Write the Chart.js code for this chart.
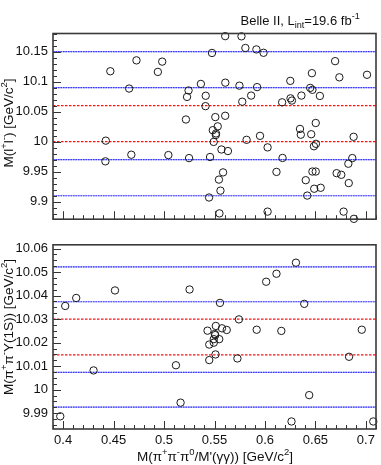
<!DOCTYPE html>
<html>
<head>
<meta charset="utf-8">
<script src="https://cdn.jsdelivr.net/npm/chart.js@4.4.0/dist/chart.umd.min.js"></script>
<style>
  html, body { margin: 0; padding: 0; background: #fff; }
  #wrap { position: relative; width: 381px; height: 465px; }
  #wrap canvas { position: absolute; left: 0; }
  #topChart { top: 0; }
  #botChart { top: 232px; }
</style>
</head>
<body>
<div id="wrap">
  <canvas id="topChart" width="381" height="232"></canvas>
  <canvas id="botChart" width="381" height="233"></canvas>
</div>
<script>
// x range of both panels
const xRange = [0.39, 0.71];
const xTickValues = [0.4, 0.45, 0.5, 0.55, 0.6, 0.65, 0.7];

// upper panel: M(l+l-)
const topRange = [9.871, 10.18];
const topTickValues = [9.9, 9.95, 10, 10.05, 10.1, 10.15];
const topX = [
  0.4468, 0.4727, 0.4982, 0.4939, 0.4654, 0.5606, 0.5767, 0.5475, 0.5806, 0.5915,
  0.5986, 0.6695, 0.6737, 0.7011, 0.6465, 0.6251, 0.5365, 0.5607, 0.5747, 0.5922,
  0.6448, 0.6470, 0.5243, 0.5228, 0.5413, 0.5863, 0.6361, 0.6544, 0.6253, 0.6267,
  0.6170, 0.5775, 0.5411, 0.5217, 0.5508, 0.5606, 0.5532, 0.5483, 0.5515, 0.5513,
  0.5492, 0.5569, 0.5633, 0.5456, 0.5248, 0.5043, 0.4676, 0.4423, 0.4419, 0.5818,
  0.5951, 0.6026, 0.6174, 0.6114, 0.5585, 0.5544, 0.5559, 0.5446, 0.5549, 0.6026,
  0.6347, 0.6355, 0.6503, 0.6458, 0.6485, 0.6505, 0.6878, 0.6865, 0.6826, 0.6710,
  0.6756, 0.6830, 0.6470, 0.6503, 0.6404, 0.6419, 0.6488, 0.6552, 0.6779, 0.6881,
];
const topY = [
  10.1172, 10.1353, 10.1332, 10.1161, 10.0884, 10.1756, 10.1753, 10.1476, 10.1559, 10.1535,
  10.1479, 10.1340, 10.1071, 10.1113, 10.1140, 10.1012, 10.0961, 10.0982, 10.0932, 10.0908,
  10.0895, 10.0863, 10.0852, 10.0745, 10.0764, 10.0767, 10.0767, 10.0761, 10.0721, 10.0684,
  10.0655, 10.0665, 10.0591, 10.0369, 10.0409, 10.0431, 10.0255, 10.0191, 10.0137, 10.0111,
  9.9996, 9.9870, 9.9844, 9.9745, 9.9727, 9.9777, 9.9783, 10.0017, 9.9673, 10.0031,
  10.0097, 9.9905, 9.9729, 9.9497, 9.9489, 9.9369, 9.9185, 9.9071, 9.8807, 9.8836,
  10.0212, 10.0116, 10.0311, 10.0124, 9.9924, 9.9964, 10.0081, 9.9727, 9.9633, 9.9476,
  9.9449, 9.9311, 9.9503, 9.9503, 9.9359, 9.9103, 9.9217, 9.9233, 9.8836, 9.8716,
];
const topRedLines = [10.06, 10.0];
const topBlueLines = [10.15, 10.09, 9.97, 9.91];

// lower panel: M(pi+pi-Y(1S))
const botRange = [9.9833, 10.0616];
const botTickValues = [9.99, 10, 10.01, 10.02, 10.03, 10.04, 10.05, 10.06];
const botX = [
  0.3972, 0.4021, 0.4130, 0.4302, 0.4514, 0.5118, 0.5164, 0.5253, 0.5431, 0.5448,
  0.5448, 0.5513, 0.5503, 0.5507, 0.5493, 0.5547, 0.5493, 0.5510, 0.5574, 0.5621,
  0.5554, 0.5742, 0.5727, 0.5918, 0.6012, 0.6114, 0.6307, 0.6162, 0.6389, 0.6438,
  0.6263, 0.6833, 0.6959, 0.7073,
];
const botY = [
  9.9887, 10.0356, 10.0390, 10.0082, 10.0422, 10.0104, 9.9945, 10.0426, 10.0251, 10.0192,
  10.0126, 10.0271, 10.0237, 10.0232, 10.0215, 10.0215, 10.0200, 10.0150, 10.0261, 10.0254,
  10.0369, 10.0299, 10.0133, 10.0255, 10.0459, 10.0493, 10.0540, 10.0250, 10.0365, 9.9977,
  9.9865, 10.0140, 10.0255, 9.9865,
];
const botRedLines = [10.030, 10.0148];
const botBlueLines = [10.0522, 10.0374, 10.0074, 9.9926];

const FONT = '"Liberation Sans", Arial, Helvetica, sans-serif';

function fmt(v) {
  return String(Number(v.toFixed(3)));
}

// draw a string made of normal / superscript / subscript parts
function drawRich(ctx, parts, x, y, size, align) {
  const sizes = parts.map(p => (p[1] ? size * 0.7 : size));
  let total = 0;
  parts.forEach((p, i) => {
    ctx.font = sizes[i] + 'px ' + FONT;
    total += ctx.measureText(p[0]).width;
  });
  let cx = align === 'center' ? x - total / 2 : x;
  ctx.textBaseline = 'alphabetic';
  ctx.textAlign = 'left';
  parts.forEach((p, i) => {
    ctx.font = sizes[i] + 'px ' + FONT;
    let dy = 0;
    if (p[1] === 'sup') dy = -size * 0.42;
    if (p[1] === 'sub') dy = size * 0.28;
    ctx.fillText(p[0], cx, y + dy);
    cx += ctx.measureText(p[0]).width;
  });
}

function lineSets(values, kind) {
  const sets = [];
  values.forEach(v => {
    const data = [{ x: xRange[0], y: v }, { x: xRange[1], y: v }];
    if (kind === 'red') {
      sets.push({ data, showLine: true, pointRadius: 0, borderColor: '#ff1010', borderWidth: 1.4, borderDash: [2.5, 1.5], order: 2 });
    } else {
      sets.push({ data, showLine: true, pointRadius: 0, borderColor: 'rgba(110,110,255,0.6)', borderWidth: 1.2, order: 3 });
      sets.push({ data, showLine: true, pointRadius: 0, borderColor: '#3a3aff', borderWidth: 1.2, borderDash: [1.5, 1], order: 2 });
    }
  });
  return sets;
}

function framePlugin(cfg) {
  return {
    id: 'rootFrame',
    afterDraw(chart) {
      const { ctx, chartArea: a, scales: { x, y } } = chart;
      ctx.save();
      ctx.strokeStyle = '#333';
      ctx.lineWidth = 1;
      ctx.beginPath();
      // x ticks
      for (let i = Math.ceil(x.min / cfg.xMinor - 1e-6); i * cfg.xMinor <= x.max + 1e-9; i++) {
        const v = i * cfg.xMinor;
        const major = Math.abs(v / cfg.xMajor - Math.round(v / cfg.xMajor)) < 1e-6;
        const px = Math.round(x.getPixelForValue(v)) + 0.5;
        ctx.moveTo(px, a.bottom);
        ctx.lineTo(px, a.bottom - (major ? 8 : 4));
      }
      // y ticks
      for (let i = Math.ceil(y.min / cfg.yMinor - 1e-6); i * cfg.yMinor <= y.max + 1e-9; i++) {
        const v = i * cfg.yMinor;
        const major = Math.abs(v / cfg.yMajor - Math.round(v / cfg.yMajor)) < 1e-6;
        const py = Math.round(y.getPixelForValue(v)) + 0.5;
        ctx.moveTo(a.left, py);
        ctx.lineTo(a.left + (major ? 8 : 4), py);
      }
      ctx.stroke();
      ctx.lineWidth = 1.6;
      ctx.strokeStyle = '#3a3a3a';
      ctx.strokeRect(a.left, a.top, a.right - a.left, a.bottom - a.top);

      ctx.fillStyle = '#111';
      // y title, rotated
      ctx.save();
      ctx.translate(cfg.yTitlePos[0], cfg.yTitlePos[1]);
      ctx.rotate(-Math.PI / 2);
      drawRich(ctx, cfg.yTitle, 0, 0, 13.5, 'center');
      ctx.restore();
      (cfg.texts || []).forEach(t => drawRich(ctx, t.parts, t.x, t.y, t.size, t.align));
      ctx.restore();
    },
  };
}

function makeChart(id, opts) {
  const ctx = document.getElementById(id).getContext('2d');
  return new Chart(ctx, {
    type: 'scatter',
    data: {
      datasets: [
        {
          data: opts.xs.map((v, i) => ({ x: v, y: opts.ys[i] })),
          pointRadius: 3.7,
          pointBorderWidth: 1,
          borderColor: '#1a1a1a',
          backgroundColor: 'rgba(0,0,0,0)',
          pointStyle: 'circle',
          clip: false,
          order: 0,
        },
        ...lineSets(opts.red, 'red'),
        ...lineSets(opts.blue, 'blue'),
      ],
    },
    options: {
      responsive: false,
      animation: false,
      events: [],
      layout: { padding: opts.padding },
      plugins: { legend: { display: false }, tooltip: { enabled: false } },
      scales: {
        x: {
          type: 'linear',
          min: xRange[0],
          max: xRange[1],
          display: opts.showX,
          grid: { display: false, drawTicks: false },
          border: { display: false },
          afterBuildTicks: s => { s.ticks = xTickValues.map(v => ({ value: v })); },
          ticks: {
            font: { family: FONT, size: 13 },
            color: '#111',
            padding: 4,
            maxRotation: 0,
            autoSkip: false,
            callback: v => fmt(v),
          },
          afterFit: s => { s.height = opts.xHeight; },
        },
        y: {
          type: 'linear',
          min: opts.range[0],
          max: opts.range[1],
          grid: { display: false, drawTicks: false },
          border: { display: false },
          afterBuildTicks: s => { s.ticks = opts.ticks.map(v => ({ value: v })); },
          ticks: {
            font: { family: FONT, size: 13 },
            color: '#111',
            padding: 5,
            autoSkip: false,
            callback: v => fmt(v),
          },
          afterFit: s => { s.width = 53; },
        },
      },
    },
    plugins: [framePlugin(opts.frame)],
  });
}

makeChart('topChart', {
  xs: topX, ys: topY, red: topRedLines, blue: topBlueLines,
  range: topRange, ticks: topTickValues,
  showX: false, xHeight: 0,
  padding: { left: 0, right: 4, top: 33.5, bottom: 5.3 },
  frame: {
    xMajor: 0.05, xMinor: 0.01, yMajor: 0.05, yMinor: 0.01,
    yTitle: [['M(l', ''], ['+', 'sup'], ['l', ''], ['-', 'sup'], [') [GeV/c', ''], ['2', 'sup'], [']', '']],
    yTitlePos: [13, 123],
    texts: [
      { parts: [['Belle II, L', ''], ['int', 'sub'], ['=19.6 fb', ''], ['-1', 'sup']], x: 240.5, y: 24.5, size: 13, align: 'left' },
    ],
  },
});

makeChart('botChart', {
  xs: botX, ys: botY, red: botRedLines, blue: botBlueLines,
  range: botRange, ticks: botTickValues,
  showX: true, xHeight: 36,
  padding: { left: 0, right: 4, top: 5.7, bottom: 0 },
  frame: {
    xMajor: 0.05, xMinor: 0.01, yMajor: 0.01, yMinor: 0.0025,
    yTitle: [['M(π', ''], ['+', 'sup'], ['π', ''], ['-', 'sup'], ['Υ(1S)) [GeV/c', ''], ['2', 'sup'], [']', '']],
    yTitlePos: [13, 95],
    texts: [
      { parts: [['M(π', ''], ['+', 'sup'], ['π', ''], ['-', 'sup'], ['π', ''], ['0', 'sup'], ["/M'(γγ)) [GeV/c", ''], ['2', 'sup'], [']', '']], x: 215, y: 229, size: 13.5, align: 'center' },
    ],
  },
});
</script>
</body>
</html>
